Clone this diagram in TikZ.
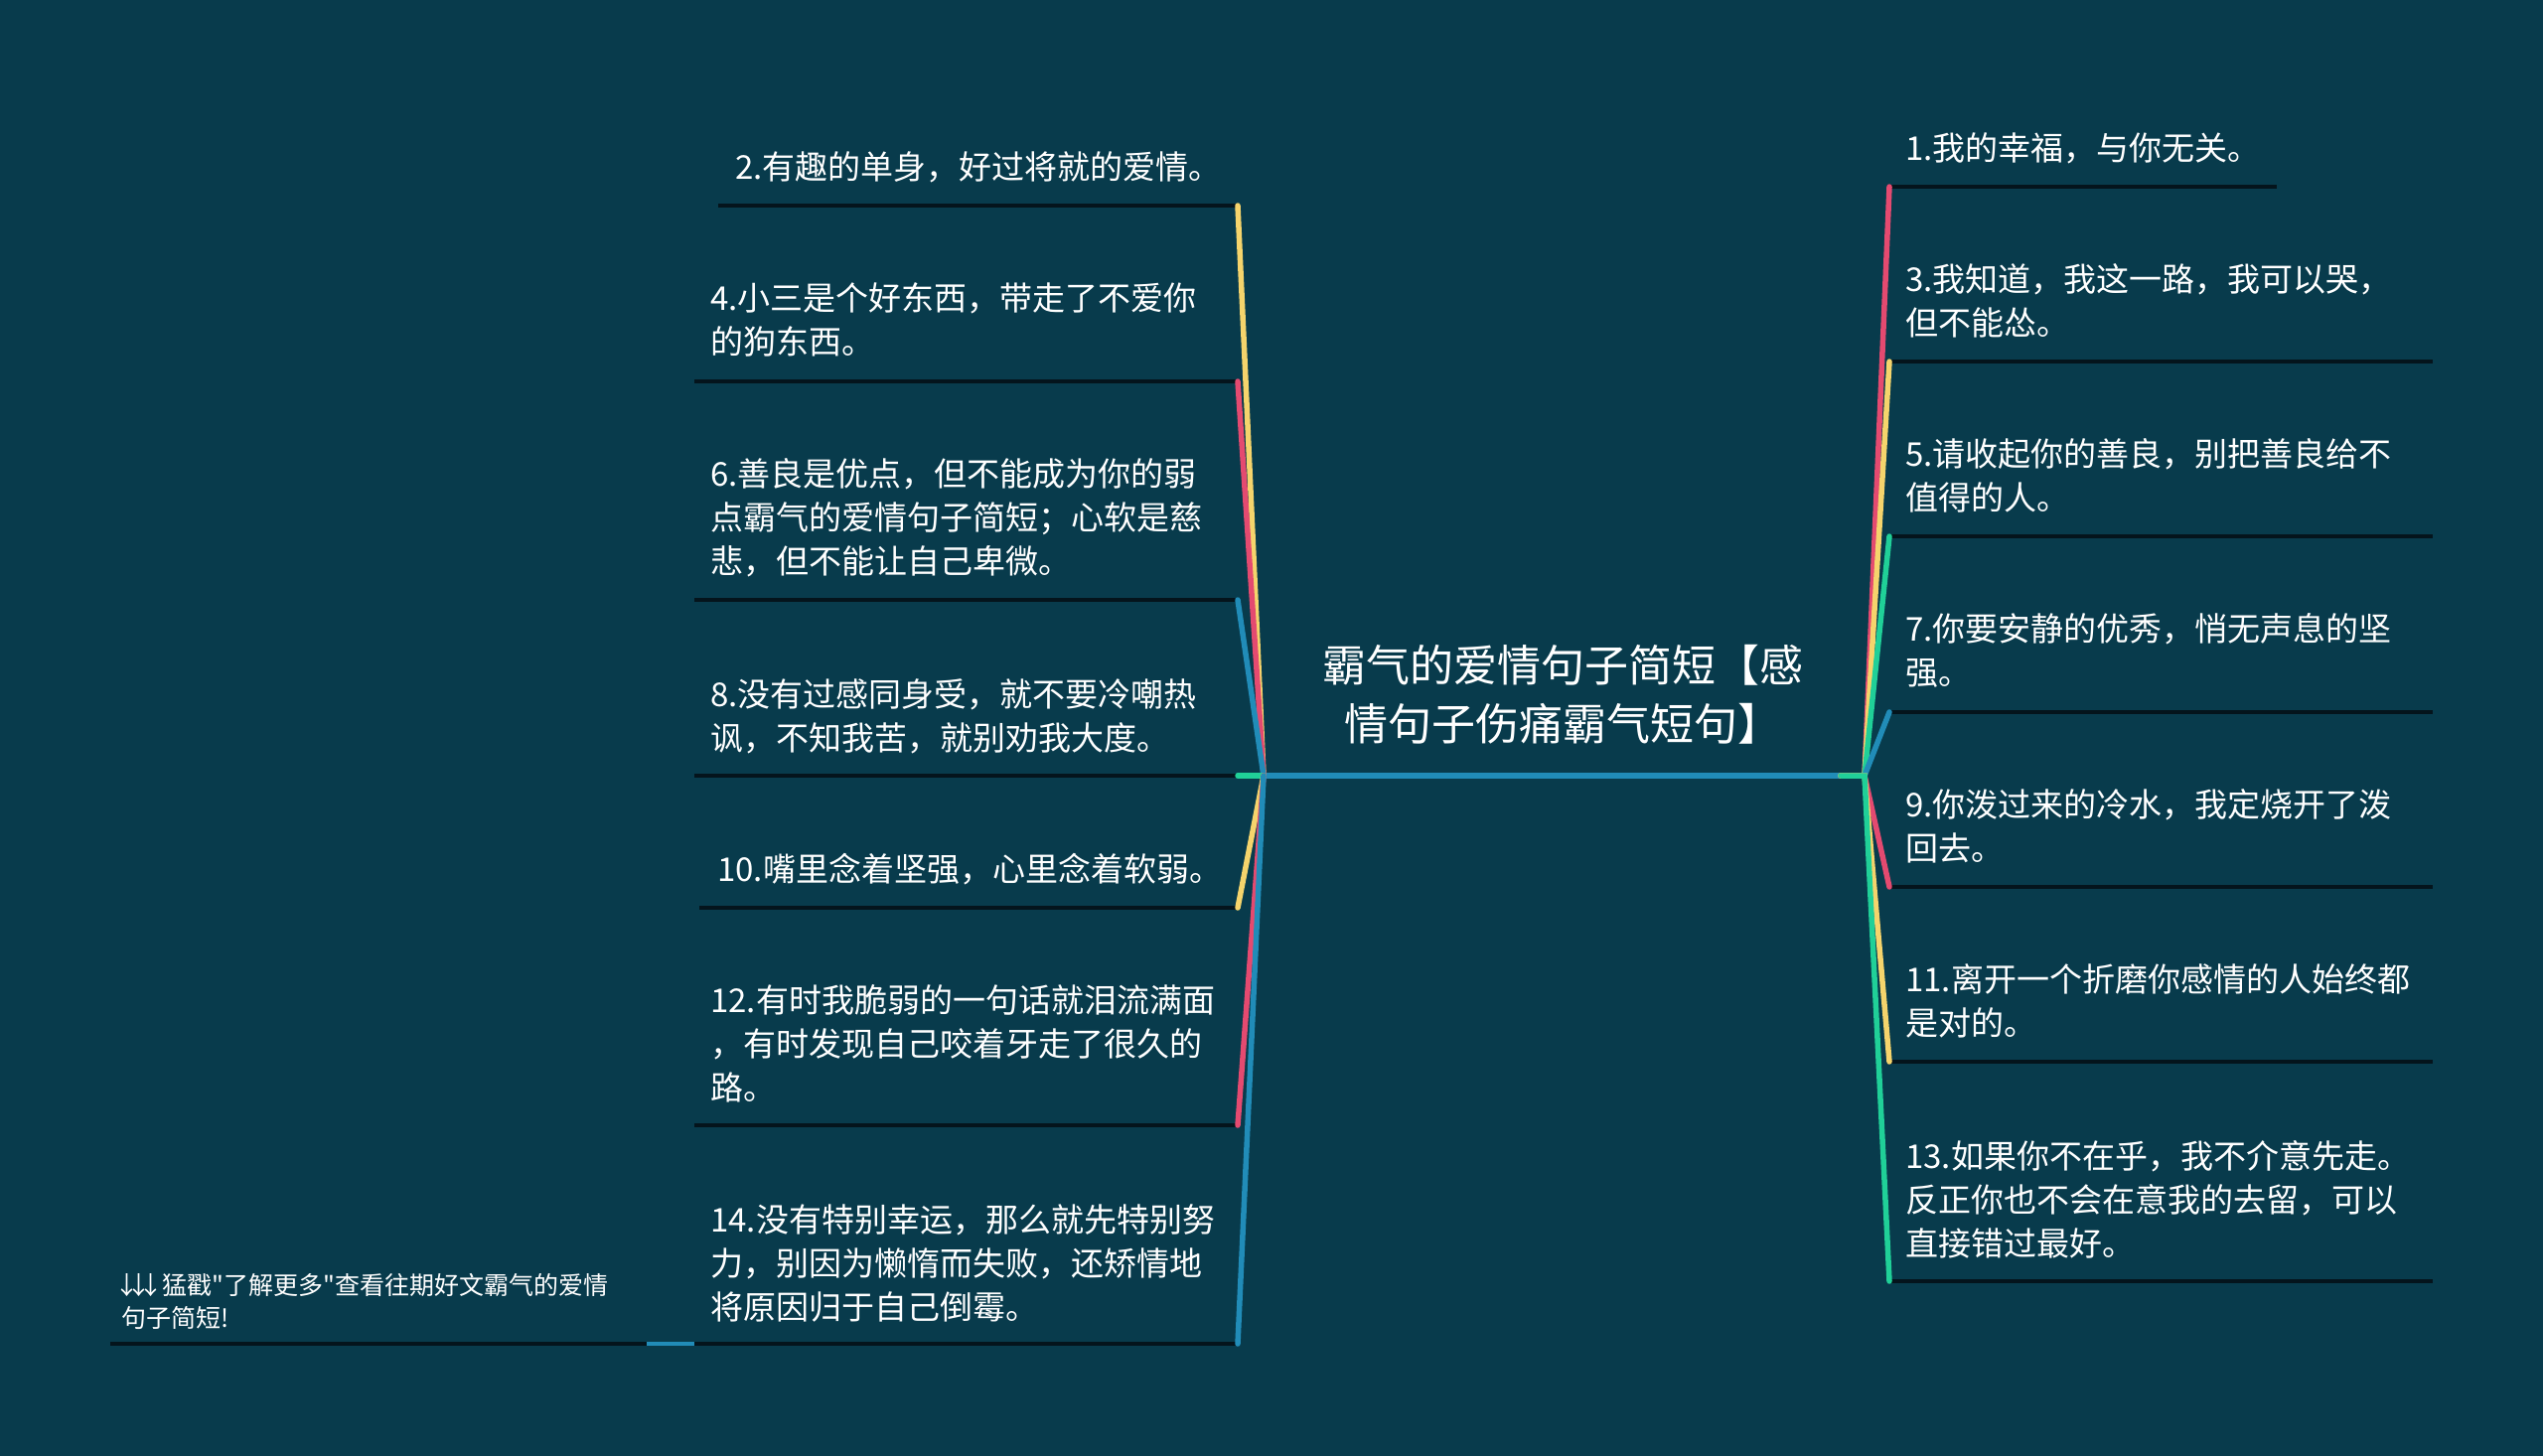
\documentclass[tikz,border=0pt]{standalone}
\usepackage{fontspec}
\setmainfont{Noto Sans CJK SC}
\definecolor{bg}{RGB}{8,59,76}
\definecolor{cblue}{RGB}{33,140,184}
\definecolor{cgreen}{RGB}{32,208,152}
\definecolor{cyellow}{RGB}{245,212,108}
\definecolor{cpink}{RGB}{228,74,112}
\definecolor{uline}{RGB}{4,20,28}
\newcommand{\darr}{\makebox[12pt]{↓}}
\tikzset{
  item/.style={anchor=west, inner sep=0pt, align=left, text=white, font=\fontsize{33}{44}\selectfont},
  roottext/.style={anchor=center, inner sep=0pt, align=center, text=white, font=\fontsize{44}{59}\selectfont},
  moretext/.style={anchor=west, inner sep=0pt, align=left, text=white, font=\fontsize{25}{33}\selectfont},
  under/.style={draw=uline, line width=4pt},
  conn/.style={line width=5.5pt, line cap=round},
}
\begin{document}
\begin{tikzpicture}[x=1pt,y=-1pt]
\useasboundingbox (0,0) rectangle (2560,1466);
\fill[bg] (0,0) rectangle (2560,1466);

% hubs
\coordinate (hubL) at (1272,781);
\coordinate (hubR) at (1877,781);
\coordinate (hubRin) at (1853,781);

% root
\node[roottext] (root) at (1573,699) {霸气的爱情句子简短【感\\情句子伤痛霸气短句】};
\draw[cblue, line width=5.5pt] (hubL) -- (hubRin);

% left items
\node[item] (n2) at (740,168) {2.有趣的单身，好过将就的爱情。};
\node[item] (n4) at (715,322) {4.小三是个好东西，带走了不爱你\\的狗东西。};
\node[item] (n6) at (715,521) {6.善良是优点，但不能成为你的弱\\点霸气的爱情句子简短；心软是慈\\悲，但不能让自己卑微。};
\node[item] (n8) at (715,721) {8.没有过感同身受，就不要冷嘲热\\讽，不知我苦，就别劝我大度。};
\node[item] (n10) at (722,875) {10.嘴里念着坚强，心里念着软弱。};
\node[item] (n12) at (715,1051) {12.有时我脆弱的一句话就泪流满面\\，有时发现自己咬着牙走了很久的\\路。};
\node[item] (n14) at (715,1272) {14.没有特别幸运，那么就先特别努\\力，别因为懒惰而失败，还矫情地\\将原因归于自己倒霉。};

\coordinate (u2a) at (723,207);  \coordinate (u2b) at (1246,207);
\coordinate (u4a) at (699,384);  \coordinate (u4b) at (1246,384);
\coordinate (u6a) at (699,604);  \coordinate (u6b) at (1246,604);
\coordinate (u8a) at (699,781);  \coordinate (u8b) at (1246,781);
\coordinate (u10a) at (704,914); \coordinate (u10b) at (1246,914);
\coordinate (u12a) at (699,1133); \coordinate (u12b) at (1246,1133);
\coordinate (u14a) at (699,1353); \coordinate (u14b) at (1246,1353);

\foreach \k in {2,4,6,8,10,12,14} {\draw[under] (u\k a) -- (u\k b);}

\draw[conn, cyellow] (u2b) -- (hubL);
\draw[conn, cpink] (u4b) -- (hubL);
\draw[conn, cblue] (u6b) -- (hubL);
\draw[conn, cgreen] (u8b) -- (hubL);
\draw[conn, cyellow] (u10b) -- (hubL);
\draw[conn, cpink] (u12b) -- (hubL);
\draw[conn, cblue] (u14b) -- (hubL);

% more node
\node[moretext] (more) at (122,1310) {\darr\darr\darr\ 猛戳\textquotedbl 了解更多\textquotedbl 查看往期好文霸气的爱情\\句子简短!};
\coordinate (uma) at (111,1353); \coordinate (umb) at (651,1353);
\draw[under] (uma) -- (umb);
\draw[cblue, line width=4pt] (u14a) -- (umb);

% right items
\node[item] (n1) at (1918,149) {1.我的幸福，与你无关。};
\node[item] (n3) at (1918,303) {3.我知道，我这一路，我可以哭，\\但不能怂。};
\node[item] (n5) at (1918,479) {5.请收起你的善良，别把善良给不\\值得的人。};
\node[item] (n7) at (1918,655) {7.你要安静的优秀，悄无声息的坚\\强。};
\node[item] (n9) at (1918,832) {9.你泼过来的冷水，我定烧开了泼\\回去。};
\node[item] (n11) at (1918,1008) {11.离开一个折磨你感情的人始终都\\是对的。};
\node[item] (n13) at (1918,1208) {13.如果你不在乎，我不介意先走。\\反正你也不会在意我的去留，可以\\直接错过最好。};

\coordinate (v1a) at (1902,188);  \coordinate (v1b) at (2292,188);
\coordinate (v3a) at (1902,364);  \coordinate (v3b) at (2449,364);
\coordinate (v5a) at (1902,540);  \coordinate (v5b) at (2449,540);
\coordinate (v7a) at (1902,717);  \coordinate (v7b) at (2449,717);
\coordinate (v9a) at (1902,893);  \coordinate (v9b) at (2449,893);
\coordinate (v11a) at (1902,1069); \coordinate (v11b) at (2449,1069);
\coordinate (v13a) at (1902,1290); \coordinate (v13b) at (2449,1290);

\foreach \k in {1,3,5,7,9,11,13} {\draw[under] (v\k a) -- (v\k b);}

\draw[conn, cpink] (hubRin) -- (hubR) -- (v1a);
\draw[conn, cyellow] (hubRin) -- (hubR) -- (v3a);
\draw[conn, cgreen] (hubRin) -- (hubR) -- (v5a);
\draw[conn, cblue] (hubRin) -- (hubR) -- (v7a);
\draw[conn, cpink] (hubRin) -- (hubR) -- (v9a);
\draw[conn, cyellow] (hubRin) -- (hubR) -- (v11a);
\draw[conn, cgreen] (hubRin) -- (hubR) -- (v13a);
\end{tikzpicture}
\end{document}
